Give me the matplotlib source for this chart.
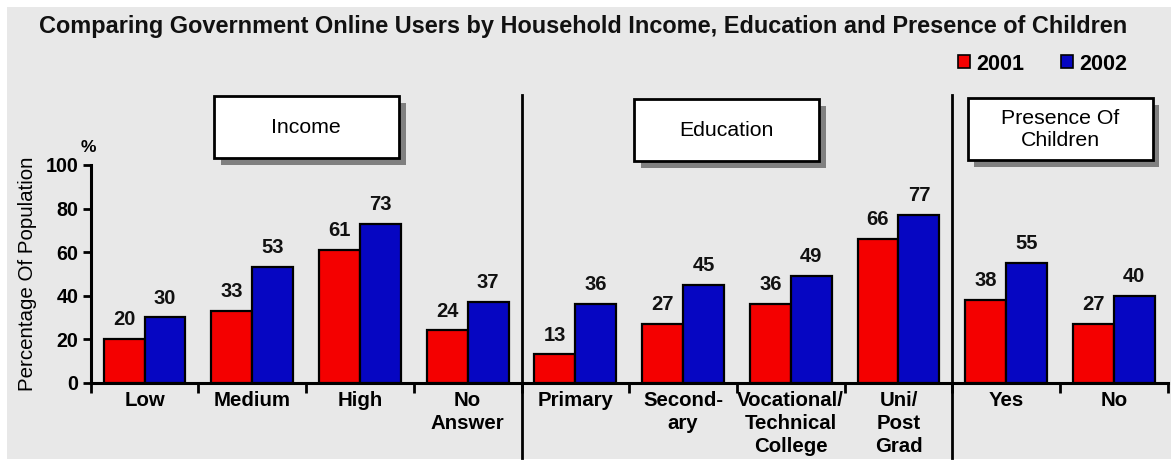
import matplotlib
matplotlib.use("Agg")
import matplotlib.pyplot as plt
import matplotlib.patheffects as pe
from matplotlib.patches import Rectangle
from matplotlib.lines import Line2D
from matplotlib.transforms import blended_transform_factory
import numpy as np

plt.rcParams['font.family'] = ['Liberation Sans', 'DejaVu Sans']

categories = ["Low", "Medium", "High", "No\nAnswer",
              "Primary", "Second-\nary", "Vocational/\nTechnical\nCollege", "Uni/\nPost\nGrad",
              "Yes", "No"]
v2001 = [20, 33, 61, 24, 13, 27, 36, 66, 38, 27]
v2002 = [30, 53, 73, 37, 36, 45, 49, 77, 55, 40]
groups = ["Income", "Education", "Presence Of\nChildren"]
group_centers = [1.5, 5.4, 8.5]
dividers = [3.5, 7.5]

RED = '#f40000'
BLUE = '#0606c2'
W, H = 1171, 461

fig = plt.figure(figsize=(W / 100, H / 100), dpi=100)
fig.patch.set_facecolor('white')
fig.patches.append(Rectangle((7 / W, 2 / H), 1 - 7 / W, 1 - 9 / H, transform=fig.transFigure,
                             facecolor='#e8e8e8', edgecolor='none', zorder=-10))

ax = fig.add_axes([90.7 / W, (H - 382.7) / H, 1077 / W, 217.7 / H])
ax.set_facecolor('none')

x = np.arange(len(categories))
bw = 0.38
ax.bar(x - bw / 2, v2001, bw, color=RED, edgecolor='black', linewidth=1.6, zorder=3)
ax.bar(x + bw / 2, v2002, bw, color=BLUE, edgecolor='black', linewidth=1.6, zorder=3)

for xi, a, b in zip(x, v2001, v2002):
    ax.annotate(str(a), (xi - bw / 2, a), xytext=(0, 10), textcoords='offset points',
                ha='center', va='baseline', fontsize=14.5, fontweight='bold', color='#111111')
    ax.annotate(str(b), (xi + bw / 2, b), xytext=(0, 10), textcoords='offset points',
                ha='center', va='baseline', fontsize=14.5, fontweight='bold', color='#111111')

ax.set_xlim(-0.5, 9.5)
ax.set_ylim(0, 100)
for s in ['top', 'right']:
    ax.spines[s].set_visible(False)
for s in ['left', 'bottom']:
    ax.spines[s].set_linewidth(2.2)

ax.set_yticks(range(0, 101, 20))
ax.tick_params(axis='y', length=6, width=2, labelsize=14.2, pad=3)
for t in ax.get_yticklabels():
    t.set_fontweight('bold')

ax.set_xticks(np.arange(-0.5, 10, 1))
ax.set_xticklabels([])
ax.tick_params(axis='x', which='major', length=7, width=2)
ax.set_xticks(x, minor=True)
ax.set_xticklabels(categories, minor=True, fontsize=14.7, fontweight='bold', linespacing=1.28)
ax.tick_params(axis='x', which='minor', length=0, pad=6)

ax.set_ylabel("Percentage Of Population", fontsize=14.8, labelpad=6)
ax.text(-0.0025, 1.046, "%", transform=ax.transAxes, ha='center', va='bottom',
        fontsize=12.5, fontweight='bold')

# vertical group dividers
def ax_y(px):
    return (382.7 - px) / 217.7

tr = blended_transform_factory(ax.transData, ax.transAxes)
for d in dividers:
    ax.add_line(Line2D([d, d], [ax_y(95), ax_y(458)], transform=tr, color='black',
                       linewidth=2, clip_on=False, zorder=4))

# group header boxes
box_w = 185 / 107.7
box_tops = [96, 99, 98]
for name, c, top in zip(groups, group_centers, box_tops):
    y0, y1 = ax_y(top + 62), ax_y(top)
    r = Rectangle((c - box_w / 2, y0), box_w, y1 - y0, transform=tr, facecolor='white',
                  edgecolor='black', linewidth=2, clip_on=False, zorder=5)
    r.set_path_effects([pe.SimplePatchShadow(offset=(5, -5), shadow_rgbFace='#808080', alpha=1),
                        pe.Normal()])
    ax.add_patch(r)
    ax.text(c, (y0 + y1) / 2, name, transform=tr, ha='center', va='center',
            fontsize=15.3, zorder=6, linespacing=1.2)

fig.text(0.498, 1 - 26 / H, "Comparing Government Online Users by Household Income, Education and Presence of Children",
         ha='center', va='center', fontsize=16.9, fontweight='bold', color='#111111')

handles = [Rectangle((0, 0), 1, 1, facecolor=RED, edgecolor='black', linewidth=1.2),
           Rectangle((0, 0), 1, 1, facecolor=BLUE, edgecolor='black', linewidth=1.2)]
leg = fig.legend(handles, ["2001", "2002"], loc='center right', bbox_to_anchor=(1147 / W, 1 - 64 / H),
                 ncol=2, frameon=False, handlelength=0.55, handleheight=0.55, handletextpad=0.3,
                 columnspacing=1.7, prop={'size': 15.5, 'weight': 'bold'})

fig.savefig("out.png", dpi=100)
